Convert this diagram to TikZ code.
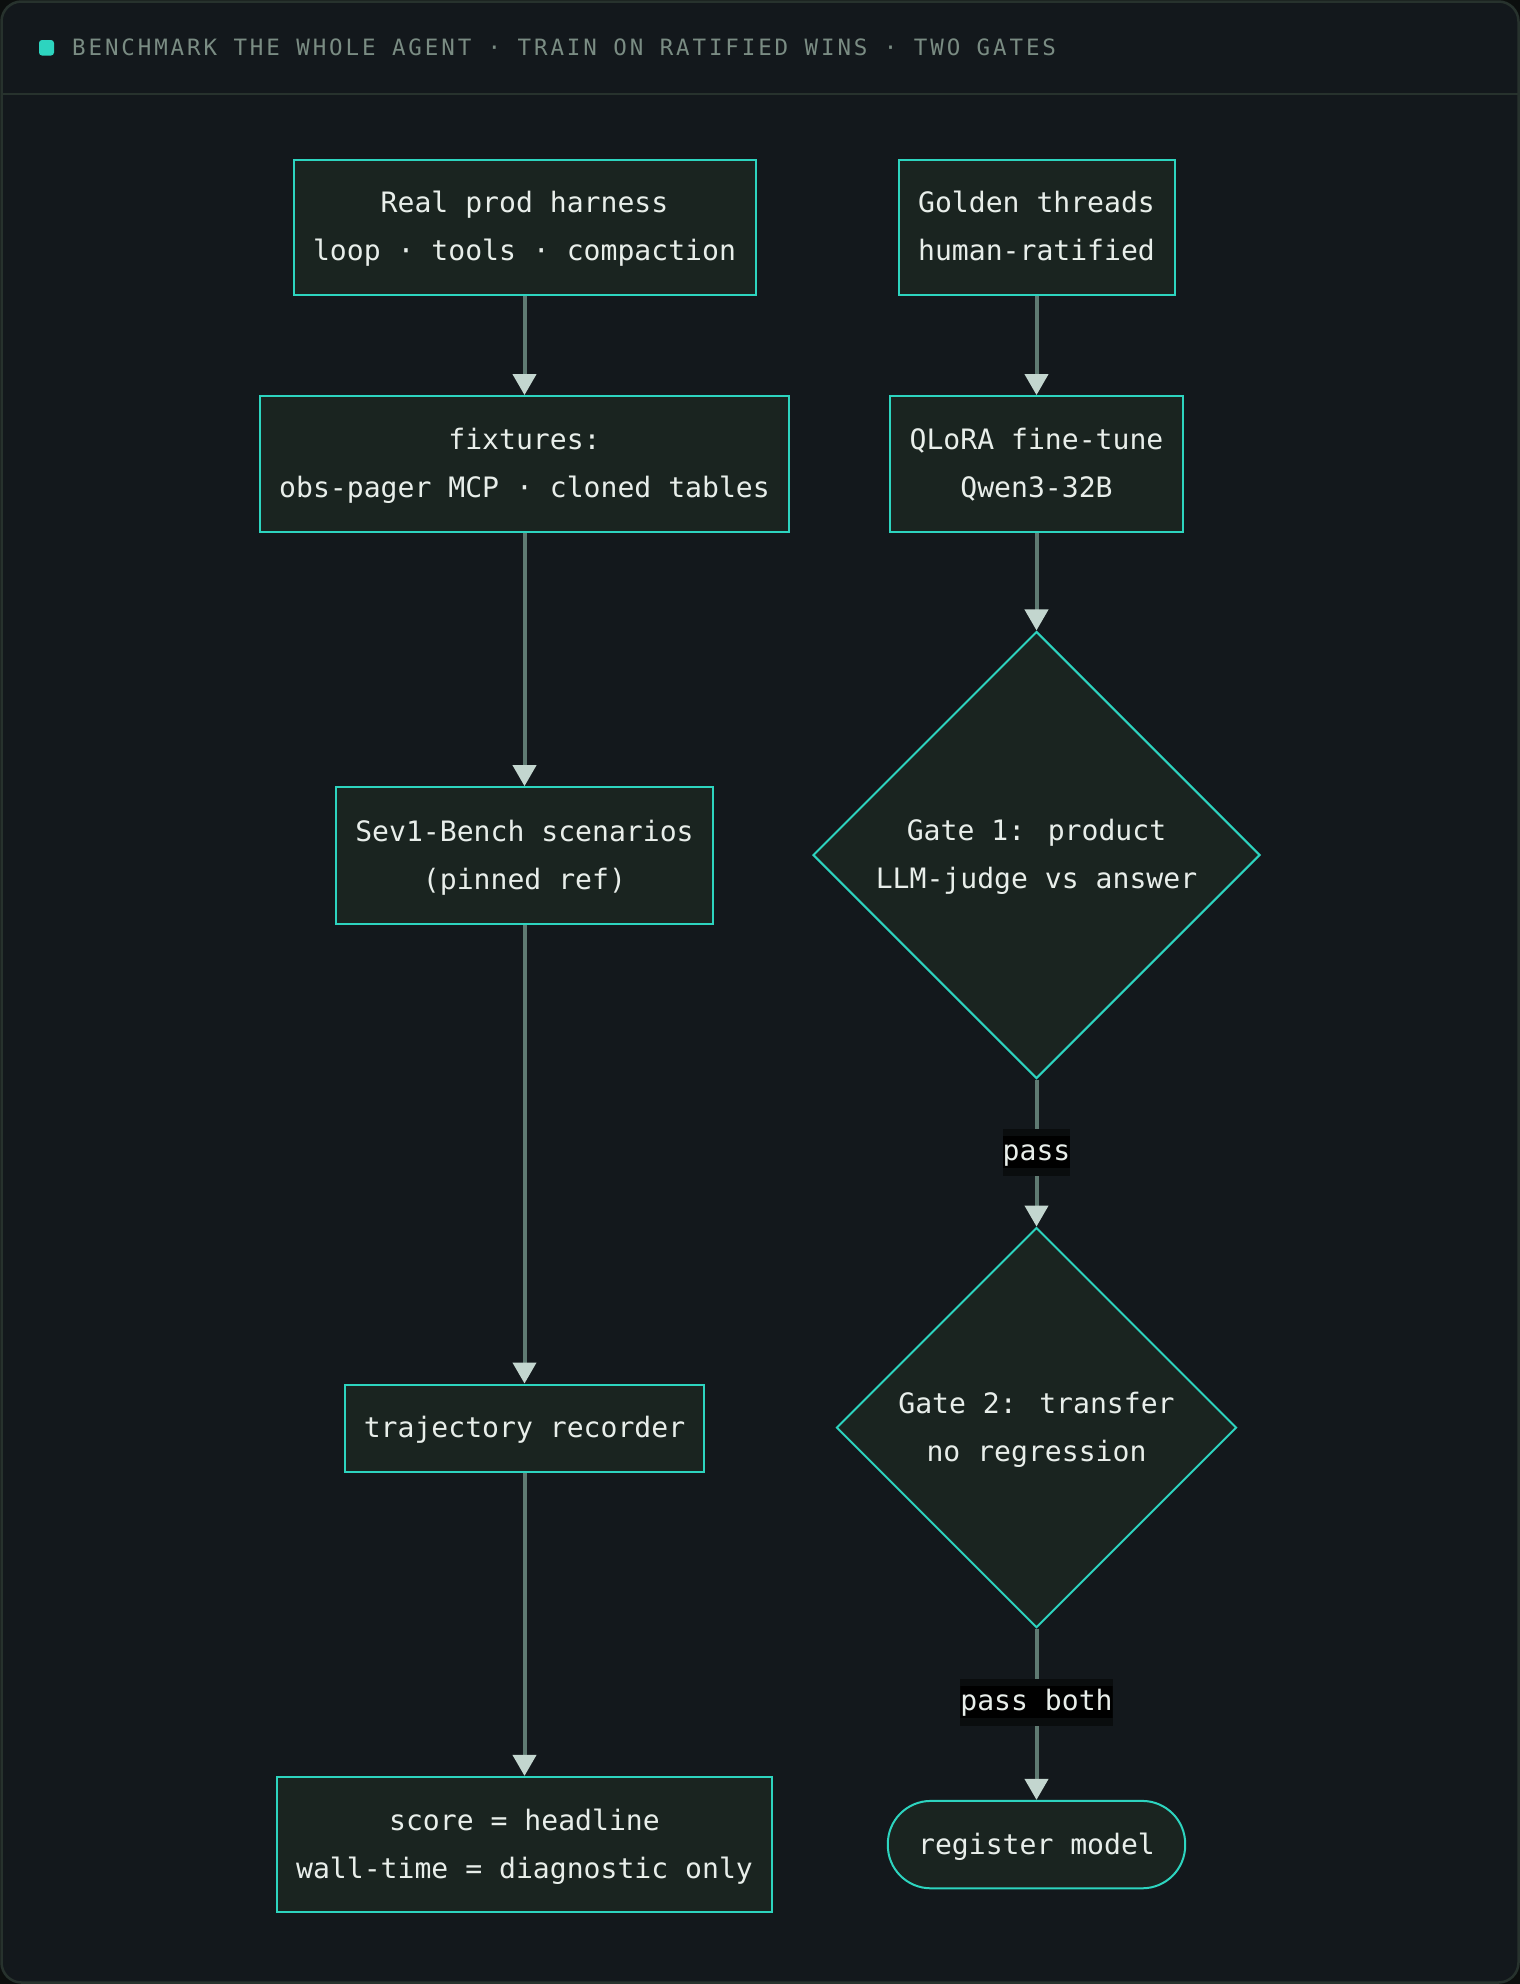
\documentclass[tikz,border=0pt]{standalone}
\usepackage{fontspec}
\usetikzlibrary{shapes.geometric,arrows.meta,calc}
\newfontfamily\mono{DejaVu Sans Mono}
\newfontfamily\monohead{DejaVu Sans Mono}[LetterSpace=12.8]
\definecolor{outerbg}{HTML}{0C0F0E}
\definecolor{panelbg}{HTML}{13181C}
\definecolor{framecol}{HTML}{27322D}
\definecolor{headtxt}{HTML}{7A8C83}
\definecolor{teal}{HTML}{2DD4BF}
\definecolor{nodefill}{HTML}{1A2420}
\definecolor{nodetxt}{HTML}{E8EEEA}
\definecolor{edgecol}{HTML}{5F7A72}
\definecolor{tipcol}{HTML}{C3D6CF}
\definecolor{lblout}{HTML}{0A0D0E}
\definecolor{lblin}{HTML}{000000}
\newcommand{\tline}[1]{\strut #1}
\tikzset{
  base/.style={draw=teal, line width=2pt, fill=nodefill, text=nodetxt, align=center,
    font=\mono\fontsize{28.1}{48}\selectfont, inner sep=0pt},
  box/.style={base, rectangle},
  gate/.style={base, diamond, aspect=1},
  pill/.style={base, rectangle, rounded corners=43pt},
  flow/.style={draw=edgecol, line width=4pt, -{Triangle[length=21pt,width=23pt,fill=tipcol,color=tipcol]}},
  elabel/.style={fill=lblout, text=nodetxt, font=\mono\fontsize{28.1}{32}\selectfont,
    inner sep=0pt, text height=15.5pt, text depth=0pt, minimum height=47pt, minimum width=67pt,
    path picture={\fill[lblin] ($(path picture bounding box.west)+(0,-16pt)$) rectangle ($(path picture bounding box.east)+(0,16pt)$);}}
}
\begin{document}
\begin{tikzpicture}[x=1pt,y=-1pt]
\useasboundingbox (0,0) rectangle (1520,1984);
\fill[outerbg] (0,0) rectangle (1520,1984);
\draw[framecol, line width=2.5pt, fill=panelbg, rounded corners=20pt] (1.5,1.5) rectangle (1518.5,1982.5);
\draw[framecol, line width=2pt] (1.5,94) -- (1518.5,94);
\fill[teal, rounded corners=3pt] (39,40) rectangle (54,55.5);
\node[anchor=west, inner sep=0pt, text=headtxt, font=\monohead\fontsize{22.5}{26}\selectfont] (title) at (72,47.5)
  {BENCHMARK THE WHOLE AGENT · TRAIN ON RATIFIED WINS · TWO GATES};

% left column
\node[box, minimum width=462pt, minimum height=135.4pt] (harness) at (524.5,227.2) {\tline{Real prod harness}\\\tline{loop · tools · compaction}};
\node[box, minimum width=529pt, minimum height=135.4pt] (fixtures) at (524.5,463.8) {\tline{fixtures:}\\\tline{obs-pager MCP · cloned tables}};
\node[box, minimum width=377pt, minimum height=136.7pt] (sev) at (524.5,855.5) {\tline{Sev1-Bench scenarios}\\\tline{(pinned ref)}};
\node[box, minimum width=359.5pt, minimum height=87.3pt] (traj) at (524.5,1428.2) {\tline{trajectory recorder}};
\node[box, minimum width=494.8pt, minimum height=135.4pt] (score) at (524.5,1844.6) {\tline{score = headline}\\\tline{wall-time = diagnostic only}};

% right column
\node[box, minimum width=276pt, minimum height=135.4pt] (golden) at (1036.5,227.2) {\tline{Golden threads}\\\tline{human-ratified}};
\node[box, minimum width=293.6pt, minimum height=135.4pt] (qlora) at (1036.5,463.8) {\tline{QLoRA fine-tune}\\\tline{Qwen3-32B}};
\node[gate, minimum width=447pt, minimum height=447pt] (gate1) at (1036.5,855) {\tline{Gate 1: product}\\\tline{LLM-judge vs answer}};
\node[gate, minimum width=400pt, minimum height=400pt] (gate2) at (1036.5,1427.6) {\tline{Gate 2: transfer}\\\tline{no regression}};
\node[pill, minimum width=297.4pt, minimum height=87.4pt] (register) at (1036.5,1844.6) {\tline{register model}};

% connectors
\draw[flow] (harness) -- (fixtures);
\draw[flow] (fixtures) -- (sev);
\draw[flow] (sev) -- (traj);
\draw[flow] (traj) -- (score);
\draw[flow] (golden) -- (qlora);
\draw[flow] (qlora) -- (gate1);
\draw[flow] (gate1) -- node[elabel, pos=0.496] (lpass) {pass} (gate2);
\draw[flow] (gate2) -- node[elabel, pos=0.43] (lboth) {pass both} (register);
\end{tikzpicture}
\end{document}
